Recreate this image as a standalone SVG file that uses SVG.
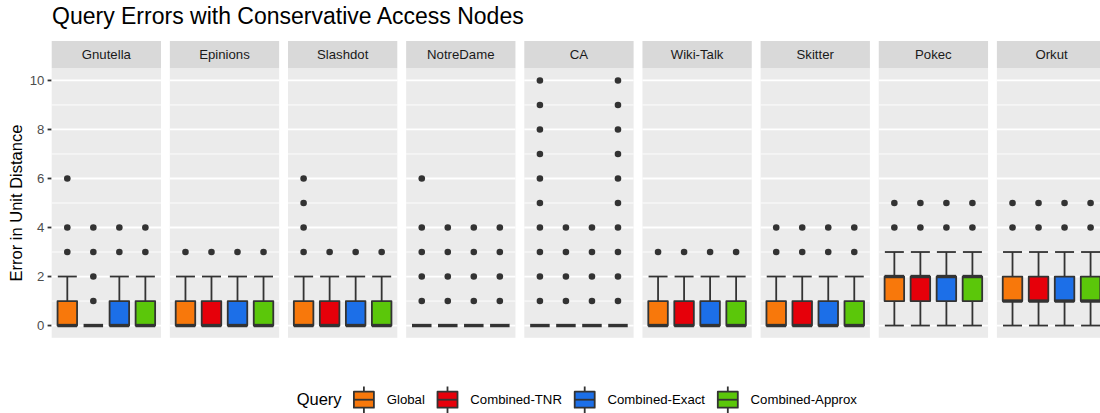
<svg xmlns="http://www.w3.org/2000/svg" xmlns:xlink="http://www.w3.org/1999/xlink" width="1100" height="413" viewBox="0 0 1100 413">
  <style>
    text { font-family: "Liberation Sans", Arial, Helvetica, sans-serif; }
    .title { font-size: 23px; fill: #000000; }
    .axis-title { font-size: 16.5px; fill: #000000; }
    .tick-label { font-size: 13.2px; fill: #4D4D4D; text-anchor: end; }
    .strip-label { font-size: 13.2px; fill: #1A1A1A; text-anchor: middle; }
    .legend-title { font-size: 16.5px; fill: #000000; }
    .legend-label { font-size: 13.2px; fill: #000000; }
    .strip { fill: #D9D9D9; }
    .bg { fill: #EBEBEB; }
    .major { stroke: #FFFFFF; stroke-width: 1.8; }
    .minor { stroke: #FFFFFF; stroke-width: 0.9; }
    .tick { stroke: #333333; stroke-width: 1.8; }
    .ln { stroke: #333333; stroke-width: 1.8; }
    .bx { stroke: #333333; stroke-width: 1.8; stroke-linejoin: round; }
    .md { stroke: #333333; stroke-width: 3.4; }
    .out { fill: #333333; }
  </style>
  <defs>
    <!-- panel background with horizontal grid (y = 325.55 - 24.51 * value) -->
    <g id="panel-bg">
      <rect class="bg" x="0" y="68.2" width="109.3" height="269.6"/>
      <line class="minor" x1="0" y1="301.04" x2="109.3" y2="301.04"/>
      <line class="minor" x1="0" y1="252.02" x2="109.3" y2="252.02"/>
      <line class="minor" x1="0" y1="202.99" x2="109.3" y2="202.99"/>
      <line class="minor" x1="0" y1="153.98" x2="109.3" y2="153.98"/>
      <line class="minor" x1="0" y1="104.96" x2="109.3" y2="104.96"/>
      <line class="major" x1="0" y1="325.55" x2="109.3" y2="325.55"/>
      <line class="major" x1="0" y1="276.53" x2="109.3" y2="276.53"/>
      <line class="major" x1="0" y1="227.51" x2="109.3" y2="227.51"/>
      <line class="major" x1="0" y1="178.49" x2="109.3" y2="178.49"/>
      <line class="major" x1="0" y1="129.47" x2="109.3" y2="129.47"/>
      <line class="major" x1="0" y1="80.45" x2="109.3" y2="80.45"/>
      <rect class="strip" x="0" y="41" width="109.3" height="27.2"/>
    </g>
    <!-- box 0..1, median 0, whiskers 0..2 -->
    <g id="b01">
      <line class="ln" x1="0" y1="276.53" x2="0" y2="325.55"/>
      <line class="ln" x1="-9.5" y1="276.53" x2="9.5" y2="276.53"/>
      <line class="ln" x1="-9.5" y1="325.55" x2="9.5" y2="325.55"/>
      <rect class="bx" x="-9.76" y="301.04" width="19.52" height="24.51"/>
      <line class="md" x1="-9.76" y1="325.55" x2="9.76" y2="325.55"/>
    </g>
    <!-- all quartiles at 0 -->
    <g id="flat">
      <line class="md" x1="-9.76" y1="325.55" x2="9.76" y2="325.55"/>
    </g>
    <!-- box 1..2, whiskers 0..3, median 2 -->
    <g id="b12-hi">
      <line class="ln" x1="0" y1="252.02" x2="0" y2="325.55"/>
      <line class="ln" x1="-9.5" y1="252.02" x2="9.5" y2="252.02"/>
      <line class="ln" x1="-9.5" y1="325.55" x2="9.5" y2="325.55"/>
      <rect class="bx" x="-9.76" y="276.53" width="19.52" height="24.51"/>
      <line class="md" x1="-9.76" y1="276.53" x2="9.76" y2="276.53"/>
    </g>
    <!-- box 1..2, whiskers 0..3, median 1 -->
    <g id="b12-lo">
      <line class="ln" x1="0" y1="252.02" x2="0" y2="325.55"/>
      <line class="ln" x1="-9.5" y1="252.02" x2="9.5" y2="252.02"/>
      <line class="ln" x1="-9.5" y1="325.55" x2="9.5" y2="325.55"/>
      <rect class="bx" x="-9.76" y="276.53" width="19.52" height="24.51"/>
      <line class="md" x1="-9.76" y1="301.04" x2="9.76" y2="301.04"/>
    </g>
    <!-- legend key glyph -->
    <g id="key">
      <line class="ln" x1="0" y1="386.5" x2="0" y2="413"/>
      <rect class="bx" x="-10" y="391.7" width="20" height="16"/>
      <line class="ln" x1="-10" y1="399.7" x2="10" y2="399.7"/>
    </g>
  </defs>

  <rect x="0" y="0" width="1100" height="413" fill="#FFFFFF"/>

  <text class="title" x="52" y="24">Query Errors with Conservative Access Nodes</text>

  <!-- y axis -->
  <g id="y-axis">
    <text class="axis-title" transform="translate(22.3,203) rotate(-90)" text-anchor="middle">Error in Unit Distance</text>
    <text class="tick-label" x="44.3" y="330.25">0</text>
    <text class="tick-label" x="44.3" y="281.23">2</text>
    <text class="tick-label" x="44.3" y="232.21">4</text>
    <text class="tick-label" x="44.3" y="183.19">6</text>
    <text class="tick-label" x="44.3" y="134.17">8</text>
    <text class="tick-label" x="44.3" y="85.15">10</text>
    <line class="tick" x1="47.6" y1="325.55" x2="51.7" y2="325.55"/>
    <line class="tick" x1="47.6" y1="276.53" x2="51.7" y2="276.53"/>
    <line class="tick" x1="47.6" y1="227.51" x2="51.7" y2="227.51"/>
    <line class="tick" x1="47.6" y1="178.49" x2="51.7" y2="178.49"/>
    <line class="tick" x1="47.6" y1="129.47" x2="51.7" y2="129.47"/>
    <line class="tick" x1="47.6" y1="80.45" x2="51.7" y2="80.45"/>
  </g>

  <!-- box centres inside a panel: 15.61, 41.63, 67.65, 93.67 -->
  <g id="panel-gnutella" transform="translate(51.7,0)">
    <use href="#panel-bg"/>
    <text class="strip-label" x="54.65" y="59.3">Gnutella</text>
    <use href="#b01" x="15.61" fill="#F8780B"/>
    <use href="#flat" x="41.63" fill="#E6000A"/>
    <use href="#b01" x="67.65" fill="#1C6FE8"/>
    <use href="#b01" x="93.67" fill="#5BC70A"/>
    <circle class="out" cx="15.61" cy="252.02" r="3.3"/>
    <circle class="out" cx="15.61" cy="227.51" r="3.3"/>
    <circle class="out" cx="15.61" cy="178.49" r="3.3"/>
    <circle class="out" cx="41.63" cy="301.04" r="3.3"/>
    <circle class="out" cx="41.63" cy="276.53" r="3.3"/>
    <circle class="out" cx="41.63" cy="252.02" r="3.3"/>
    <circle class="out" cx="41.63" cy="227.51" r="3.3"/>
    <circle class="out" cx="67.65" cy="252.02" r="3.3"/>
    <circle class="out" cx="67.65" cy="227.51" r="3.3"/>
    <circle class="out" cx="93.67" cy="252.02" r="3.3"/>
    <circle class="out" cx="93.67" cy="227.51" r="3.3"/>
  </g>

  <g id="panel-epinions" transform="translate(169.85,0)">
    <use href="#panel-bg"/>
    <text class="strip-label" x="54.65" y="59.3">Epinions</text>
    <use href="#b01" x="15.61" fill="#F8780B"/>
    <use href="#b01" x="41.63" fill="#E6000A"/>
    <use href="#b01" x="67.65" fill="#1C6FE8"/>
    <use href="#b01" x="93.67" fill="#5BC70A"/>
    <circle class="out" cx="15.61" cy="252.02" r="3.3"/>
    <circle class="out" cx="41.63" cy="252.02" r="3.3"/>
    <circle class="out" cx="67.65" cy="252.02" r="3.3"/>
    <circle class="out" cx="93.67" cy="252.02" r="3.3"/>
  </g>

  <g id="panel-slashdot" transform="translate(288,0)">
    <use href="#panel-bg"/>
    <text class="strip-label" x="54.65" y="59.3">Slashdot</text>
    <use href="#b01" x="15.61" fill="#F8780B"/>
    <use href="#b01" x="41.63" fill="#E6000A"/>
    <use href="#b01" x="67.65" fill="#1C6FE8"/>
    <use href="#b01" x="93.67" fill="#5BC70A"/>
    <circle class="out" cx="15.61" cy="252.02" r="3.3"/>
    <circle class="out" cx="15.61" cy="227.51" r="3.3"/>
    <circle class="out" cx="15.61" cy="202.99" r="3.3"/>
    <circle class="out" cx="15.61" cy="178.49" r="3.3"/>
    <circle class="out" cx="41.63" cy="252.02" r="3.3"/>
    <circle class="out" cx="67.65" cy="252.02" r="3.3"/>
    <circle class="out" cx="93.67" cy="252.02" r="3.3"/>
  </g>

  <g id="panel-notredame" transform="translate(406.15,0)">
    <use href="#panel-bg"/>
    <text class="strip-label" x="54.65" y="59.3">NotreDame</text>
    <use href="#flat" x="15.61"/>
    <use href="#flat" x="41.63"/>
    <use href="#flat" x="67.65"/>
    <use href="#flat" x="93.67"/>
    <circle class="out" cx="15.61" cy="301.04" r="3.3"/>
    <circle class="out" cx="15.61" cy="276.53" r="3.3"/>
    <circle class="out" cx="15.61" cy="252.02" r="3.3"/>
    <circle class="out" cx="15.61" cy="227.51" r="3.3"/>
    <circle class="out" cx="15.61" cy="178.49" r="3.3"/>
    <circle class="out" cx="41.63" cy="301.04" r="3.3"/>
    <circle class="out" cx="41.63" cy="276.53" r="3.3"/>
    <circle class="out" cx="41.63" cy="252.02" r="3.3"/>
    <circle class="out" cx="41.63" cy="227.51" r="3.3"/>
    <circle class="out" cx="67.65" cy="301.04" r="3.3"/>
    <circle class="out" cx="67.65" cy="276.53" r="3.3"/>
    <circle class="out" cx="67.65" cy="252.02" r="3.3"/>
    <circle class="out" cx="67.65" cy="227.51" r="3.3"/>
    <circle class="out" cx="93.67" cy="301.04" r="3.3"/>
    <circle class="out" cx="93.67" cy="276.53" r="3.3"/>
    <circle class="out" cx="93.67" cy="252.02" r="3.3"/>
    <circle class="out" cx="93.67" cy="227.51" r="3.3"/>
  </g>

  <g id="panel-ca" transform="translate(524.3,0)">
    <use href="#panel-bg"/>
    <text class="strip-label" x="54.65" y="59.3">CA</text>
    <use href="#flat" x="15.61"/>
    <use href="#flat" x="41.63"/>
    <use href="#flat" x="67.65"/>
    <use href="#flat" x="93.67"/>
    <circle class="out" cx="15.61" cy="301.04" r="3.3"/>
    <circle class="out" cx="15.61" cy="276.53" r="3.3"/>
    <circle class="out" cx="15.61" cy="252.02" r="3.3"/>
    <circle class="out" cx="15.61" cy="227.51" r="3.3"/>
    <circle class="out" cx="15.61" cy="202.99" r="3.3"/>
    <circle class="out" cx="15.61" cy="178.49" r="3.3"/>
    <circle class="out" cx="15.61" cy="153.98" r="3.3"/>
    <circle class="out" cx="15.61" cy="129.47" r="3.3"/>
    <circle class="out" cx="15.61" cy="104.96" r="3.3"/>
    <circle class="out" cx="15.61" cy="80.45" r="3.3"/>
    <circle class="out" cx="41.63" cy="301.04" r="3.3"/>
    <circle class="out" cx="41.63" cy="276.53" r="3.3"/>
    <circle class="out" cx="41.63" cy="252.02" r="3.3"/>
    <circle class="out" cx="41.63" cy="227.51" r="3.3"/>
    <circle class="out" cx="67.65" cy="301.04" r="3.3"/>
    <circle class="out" cx="67.65" cy="276.53" r="3.3"/>
    <circle class="out" cx="67.65" cy="252.02" r="3.3"/>
    <circle class="out" cx="67.65" cy="227.51" r="3.3"/>
    <circle class="out" cx="93.67" cy="301.04" r="3.3"/>
    <circle class="out" cx="93.67" cy="276.53" r="3.3"/>
    <circle class="out" cx="93.67" cy="252.02" r="3.3"/>
    <circle class="out" cx="93.67" cy="227.51" r="3.3"/>
    <circle class="out" cx="93.67" cy="202.99" r="3.3"/>
    <circle class="out" cx="93.67" cy="178.49" r="3.3"/>
    <circle class="out" cx="93.67" cy="153.98" r="3.3"/>
    <circle class="out" cx="93.67" cy="129.47" r="3.3"/>
    <circle class="out" cx="93.67" cy="104.96" r="3.3"/>
    <circle class="out" cx="93.67" cy="80.45" r="3.3"/>
  </g>

  <g id="panel-wiki-talk" transform="translate(642.45,0)">
    <use href="#panel-bg"/>
    <text class="strip-label" x="54.65" y="59.3">Wiki-Talk</text>
    <use href="#b01" x="15.61" fill="#F8780B"/>
    <use href="#b01" x="41.63" fill="#E6000A"/>
    <use href="#b01" x="67.65" fill="#1C6FE8"/>
    <use href="#b01" x="93.67" fill="#5BC70A"/>
    <circle class="out" cx="15.61" cy="252.02" r="3.3"/>
    <circle class="out" cx="41.63" cy="252.02" r="3.3"/>
    <circle class="out" cx="67.65" cy="252.02" r="3.3"/>
    <circle class="out" cx="93.67" cy="252.02" r="3.3"/>
  </g>

  <g id="panel-skitter" transform="translate(760.6,0)">
    <use href="#panel-bg"/>
    <text class="strip-label" x="54.65" y="59.3">Skitter</text>
    <use href="#b01" x="15.61" fill="#F8780B"/>
    <use href="#b01" x="41.63" fill="#E6000A"/>
    <use href="#b01" x="67.65" fill="#1C6FE8"/>
    <use href="#b01" x="93.67" fill="#5BC70A"/>
    <circle class="out" cx="15.61" cy="252.02" r="3.3"/>
    <circle class="out" cx="15.61" cy="227.51" r="3.3"/>
    <circle class="out" cx="41.63" cy="252.02" r="3.3"/>
    <circle class="out" cx="41.63" cy="227.51" r="3.3"/>
    <circle class="out" cx="67.65" cy="252.02" r="3.3"/>
    <circle class="out" cx="67.65" cy="227.51" r="3.3"/>
    <circle class="out" cx="93.67" cy="252.02" r="3.3"/>
    <circle class="out" cx="93.67" cy="227.51" r="3.3"/>
  </g>

  <g id="panel-pokec" transform="translate(878.75,0)">
    <use href="#panel-bg"/>
    <text class="strip-label" x="54.65" y="59.3">Pokec</text>
    <use href="#b12-hi" x="15.61" fill="#F8780B"/>
    <use href="#b12-hi" x="41.63" fill="#E6000A"/>
    <use href="#b12-hi" x="67.65" fill="#1C6FE8"/>
    <use href="#b12-hi" x="93.67" fill="#5BC70A"/>
    <circle class="out" cx="15.61" cy="227.51" r="3.3"/>
    <circle class="out" cx="15.61" cy="202.99" r="3.3"/>
    <circle class="out" cx="41.63" cy="227.51" r="3.3"/>
    <circle class="out" cx="41.63" cy="202.99" r="3.3"/>
    <circle class="out" cx="67.65" cy="227.51" r="3.3"/>
    <circle class="out" cx="67.65" cy="202.99" r="3.3"/>
    <circle class="out" cx="93.67" cy="227.51" r="3.3"/>
    <circle class="out" cx="93.67" cy="202.99" r="3.3"/>
  </g>

  <g id="panel-orkut" transform="translate(996.9,0)">
    <use href="#panel-bg"/>
    <text class="strip-label" x="54.65" y="59.3">Orkut</text>
    <use href="#b12-lo" x="15.61" fill="#F8780B"/>
    <use href="#b12-lo" x="41.63" fill="#E6000A"/>
    <use href="#b12-lo" x="67.65" fill="#1C6FE8"/>
    <use href="#b12-lo" x="93.67" fill="#5BC70A"/>
    <circle class="out" cx="15.61" cy="227.51" r="3.3"/>
    <circle class="out" cx="15.61" cy="202.99" r="3.3"/>
    <circle class="out" cx="41.63" cy="227.51" r="3.3"/>
    <circle class="out" cx="41.63" cy="202.99" r="3.3"/>
    <circle class="out" cx="67.65" cy="227.51" r="3.3"/>
    <circle class="out" cx="67.65" cy="202.99" r="3.3"/>
    <circle class="out" cx="93.67" cy="227.51" r="3.3"/>
    <circle class="out" cx="93.67" cy="202.99" r="3.3"/>
  </g>

  <g id="legend">
    <text class="legend-title" x="296.7" y="405">Query</text>
    <use href="#key" x="363.9" fill="#F8780B"/>
    <text class="legend-label" x="386.7" y="404.4">Global</text>
    <use href="#key" x="447.5" fill="#E6000A"/>
    <text class="legend-label" x="470.3" y="404.4">Combined-TNR</text>
    <use href="#key" x="584.7" fill="#1C6FE8"/>
    <text class="legend-label" x="607.5" y="404.4">Combined-Exact</text>
    <use href="#key" x="727.8" fill="#5BC70A"/>
    <text class="legend-label" x="750.6" y="404.4">Combined-Approx</text>
  </g>
</svg>
